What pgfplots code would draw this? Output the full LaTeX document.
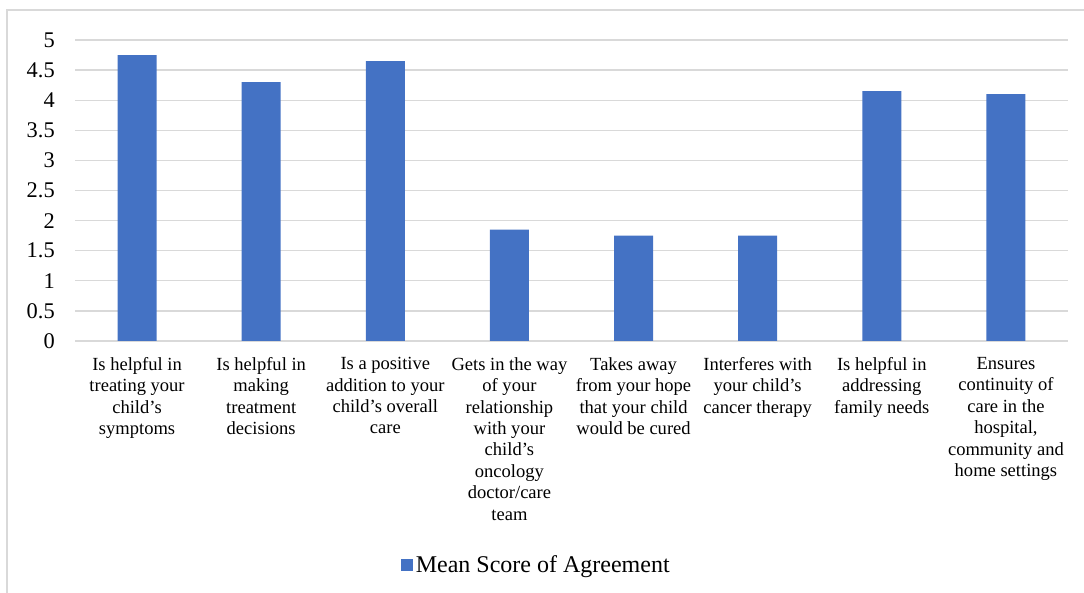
\documentclass[border=0pt]{standalone}
\usepackage{pgfplots}
\pgfplotsset{compat=1.18}
\usepackage{fontspec}
\setmainfont{Liberation Serif}
\definecolor{barblue}{HTML}{4472C4}
\definecolor{gridgray}{HTML}{D9D9D9}
\begin{document}
\begin{tikzpicture}
\path[use as bounding box] (0,0) rectangle (813pt,444pt);
\draw[gridgray, line width=1pt] (5.25pt,-1pt) -- (5.25pt,436.5pt) -- (814pt,436.5pt);
\begin{axis}[
  at={(56.25pt,188.25pt)}, anchor=south west,
  scale only axis, width=744.75pt, height=225.75pt,
  xmin=-0.5, xmax=7.5, ymin=0, ymax=5,
  ytick={0,0.5,1,1.5,2,2.5,3,3.5,4,4.5,5},
  xtick={0,1,2,3,4,5,6,7},
  xticklabels={
    {Is helpful in\\treating your\\child's\\symptoms},
    {Is helpful in\\making\\treatment\\decisions},
    {Is a positive\\addition to your\\child's overall\\care},
    {Gets in the way\\of your\\relationship\\with your\\child's\\oncology\\doctor/care\\team},
    {Takes away\\from your hope\\that your child\\would be cured},
    {Interferes with\\your child's\\cancer therapy},
    {Is helpful in\\addressing\\family needs},
    {Ensures\\continuity of\\care in the\\hospital,\\community and\\home settings}},
  major tick length=0pt,
  axis line style={draw=none},
  ymajorgrids, grid style={gridgray, line width=1pt},
  /pgf/number format/assume math mode=true,
  yticklabel style={font=\fontsize{16.8}{19}\selectfont, anchor=east, inner sep=0pt, xshift=-15pt},
  xticklabel style={font=\fontsize{13.9}{16.1}\selectfont, align=center, anchor=north, inner sep=0pt, yshift=-12pt},
  legend style={at={(0.465,-0.744)}, anchor=center, draw=none, fill=none,
    font=\fontsize{18}{21}\selectfont, inner sep=0pt,
    nodes={inner sep=2pt},
    /tikz/every even column/.append style={column sep=0pt}},
  legend cell align=left,
  legend image code/.code={\fill[barblue] (0pt,-4.5pt) rectangle (9pt,4.5pt);},
]
\addplot[ybar, bar width=29.25pt, fill=barblue, draw=none] coordinates {
  (0,4.75) (1,4.3) (2,4.65) (3,1.85) (4,1.75) (5,1.75) (6,4.15) (7,4.1)
};
\addlegendentry{Mean Score of Agreement}
\end{axis}
\end{tikzpicture}
\end{document}
